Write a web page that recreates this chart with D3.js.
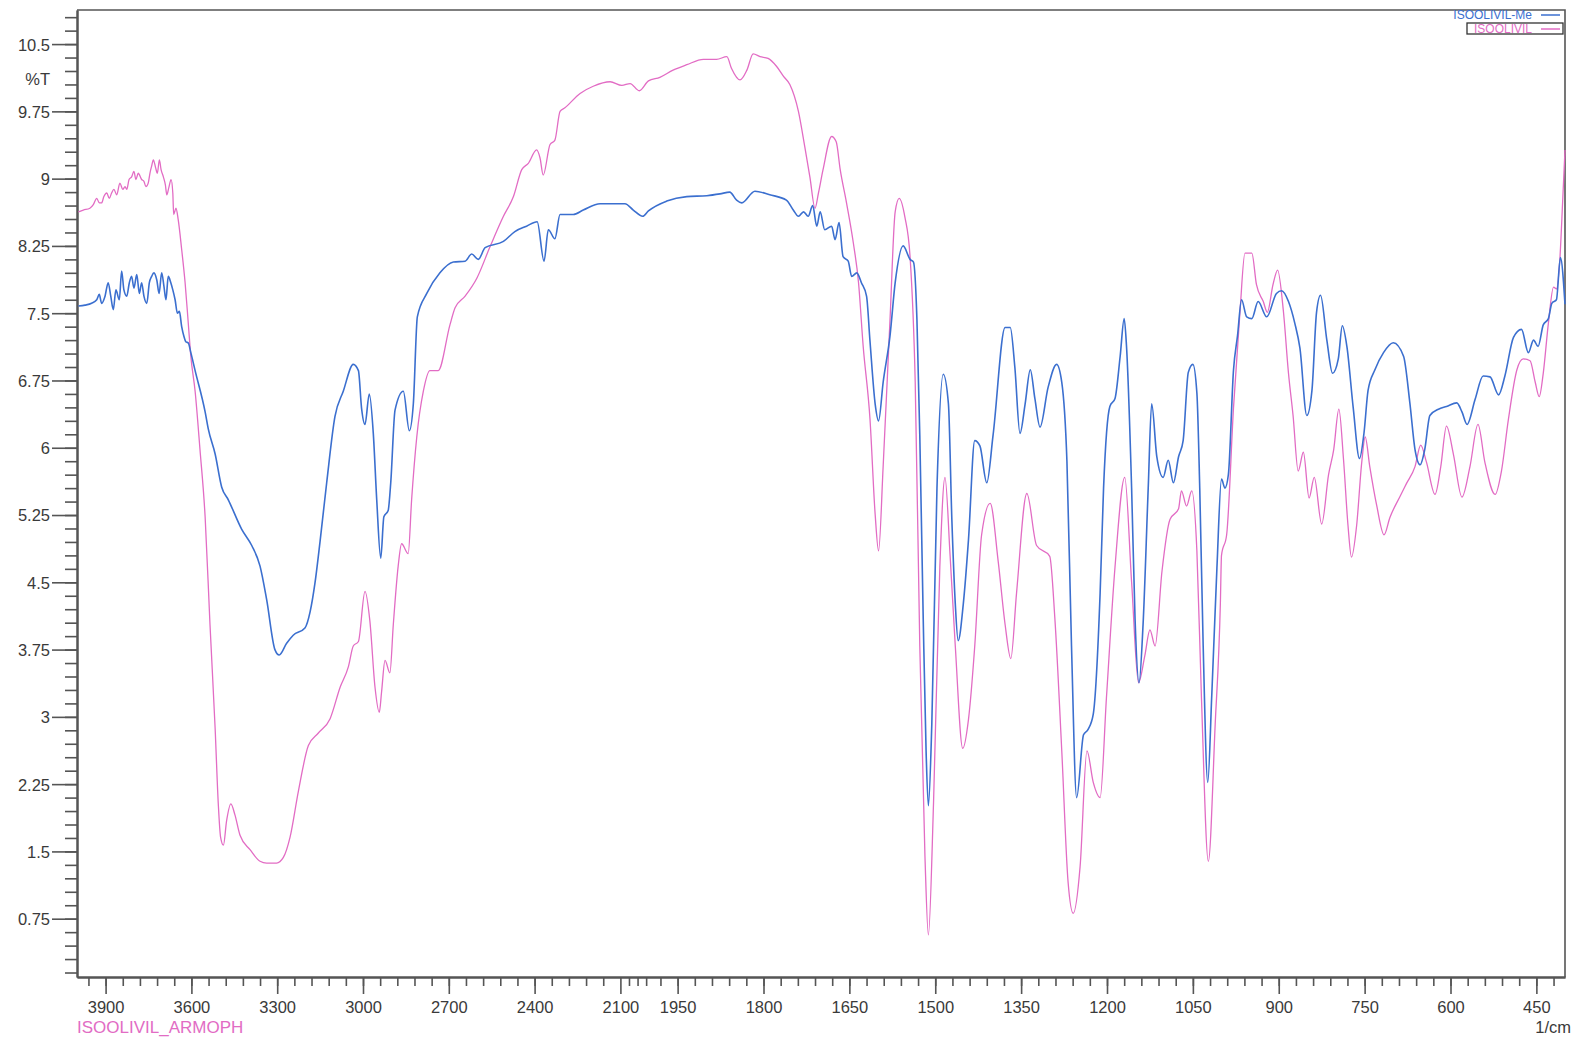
<!DOCTYPE html>
<html>
<head>
<meta charset="utf-8">
<script src="https://cdn.jsdelivr.net/npm/d3@7"></script>
<style>
  html, body { margin: 0; padding: 0; background: #fff; }
  svg { display: block; font-family: "Liberation Sans", Arial, sans-serif; }
  .axis .domain { stroke: #555; stroke-width: 2; }
  .axis .tick line { stroke: #555; stroke-width: 1.6; }
  .axis text { fill: #3a3a3a; font-size: 16.5px; }
</style>
</head>
<body>
<svg id="chart"></svg>
<script>
// Dimensions
const width = 1573;
const height = 1040;

// Tick labels
const xMajorTicks = [3900, 3600, 3300, 3000, 2700, 2400, 2100, 1950, 1800, 1650, 1500, 1350, 1200, 1050, 900, 750, 600, 450];
const yMajorTicks = [0.75, 1.5, 2.25, 3, 3.75, 4.5, 5.25, 6, 6.75, 7.5, 8.25, 9, 9.75, 10.5];

// Series names
const seriesNames = ["ISOOLIVIL-Me", "ISOOLIVIL"];
const sampleName = "ISOOLIVIL_ARMOPH";

// ISOOLIVIL-Me (blue) : [wavenumber 1/cm, %T]
const isoolivilMe = [
  [3995,7.58],[3972,7.59],[3949,7.61],[3931,7.65],[3922,7.71],[3914,7.61],[3902,7.69],[3891,7.84],[3882,7.69],[3873,7.54],
  [3864,7.76],[3852,7.65],[3844,7.97],[3836,7.76],[3826,7.69],[3817,7.84],[3809,7.91],[3801,7.78],[3791,7.93],[3782,7.72],
  [3774,7.84],[3766,7.69],[3756,7.61],[3747,7.84],[3739,7.91],[3731,7.95],[3721,7.87],[3713,7.72],[3704,7.95],[3696,7.80],
  [3689,7.65],[3681,7.91],[3672,7.84],[3665,7.76],[3657,7.65],[3649,7.50],[3642,7.52],[3634,7.35],[3626,7.24],[3619,7.18],
  [3611,7.17],[3602,7.06],[3587,6.86],[3552,6.40],[3541,6.21],[3517,5.93],[3494,5.56],[3471,5.42],[3424,5.09],[3389,4.91],
  [3360,4.68],[3337,4.31],[3308,3.75],[3293,3.69],[3267,3.82],[3244,3.91],[3203,3.99],[3185,4.17],[3168,4.49],[3150,4.96],
  [3127,5.61],[3098,6.35],[3069,6.63],[3034,6.93],[3016,6.86],[3005,6.44],[2993,6.26],[2978,6.60],[2964,6.16],[2952,5.42],
  [2938,4.77],[2927,5.23],[2912,5.30],[2903,5.61],[2888,6.42],[2859,6.63],[2838,6.19],[2824,6.49],[2810,7.46],[2777,7.72],
  [2731,7.95],[2684,8.07],[2643,8.08],[2620,8.16],[2597,8.10],[2573,8.23],[2509,8.30],[2469,8.41],[2428,8.47],[2391,8.52],
  [2367,8.08],[2352,8.43],[2329,8.33],[2311,8.60],[2265,8.60],[2230,8.65],[2171,8.72],[2084,8.72],[2055,8.65],[2022,8.58],
  [2002,8.64],[1969,8.75],[1934,8.80],[1899,8.81],[1876,8.83],[1859,8.85],[1847,8.76],[1838,8.73],[1815,8.86],[1789,8.82],
  [1760,8.76],[1748,8.65],[1739,8.58],[1730,8.63],[1722,8.58],[1714,8.70],[1707,8.47],[1701,8.63],[1693,8.43],[1681,8.47],
  [1675,8.32],[1668,8.51],[1661,8.13],[1652,8.08],[1646,7.91],[1637,7.95],[1629,7.84],[1620,7.69],[1614,7.19],[1605,6.49],
  [1599,6.30],[1591,6.73],[1579,7.25],[1570,7.84],[1556,8.25],[1544,8.10],[1538,8.07],[1532,7.43],[1527,6.14],[1521,4.09],
  [1516,2.62],[1512,2.01],[1506,2.92],[1497,5.55],[1486,6.82],[1477,6.49],[1471,5.20],[1465,4.26],[1460,3.85],[1451,4.26],
  [1442,4.97],[1431,6.08],[1422,6.02],[1410,5.61],[1399,6.14],[1378,7.34],[1369,7.34],[1361,6.90],[1352,6.16],[1343,6.49],
  [1334,6.87],[1326,6.55],[1317,6.23],[1303,6.67],[1288,6.93],[1279,6.73],[1270,5.85],[1262,3.79],[1253,2.10],[1241,2.80],
  [1233,2.86],[1224,3.03],[1212,4.38],[1206,5.55],[1195,6.46],[1186,6.55],[1177,7.02],[1170,7.44],[1166,7.14],[1157,5.55],
  [1151,4.09],[1144,3.38],[1137,4.03],[1128,5.55],[1122,6.49],[1113,5.90],[1102,5.67],[1093,5.86],[1084,5.61],[1075,5.90],
  [1067,6.08],[1058,6.84],[1050,6.93],[1043,6.61],[1038,5.55],[1032,3.79],[1024,2.27],[1017,3.24],[1008,4.66],[1000,5.65],
  [994,5.55],[988,5.70],[979,6.87],[972,7.25],[965,7.65],[956,7.46],[947,7.44],[936,7.63],[921,7.46],[904,7.72],
  [895,7.75],[883,7.63],[872,7.39],[863,7.11],[851,6.36],[842,6.64],[834,7.51],[827,7.70],[816,7.20],[806,6.83],
  [796,6.99],[789,7.36],[781,7.13],[770,6.45],[759,5.88],[751,6.17],[744,6.64],[732,6.87],[717,7.06],[700,7.17],
  [682,7.02],[671,6.50],[662,5.98],[653,5.81],[645,5.98],[636,6.36],[621,6.43],[607,6.46],[589,6.50],[580,6.40],
  [571,6.26],[557,6.54],[543,6.80],[531,6.79],[516,6.59],[505,6.80],[490,7.23],[476,7.32],[464,7.06],[455,7.20],
  [447,7.13],[438,7.37],[429,7.44],[423,7.61],[415,7.65],[408,8.12],[400,7.60]
];

// ISOOLIVIL (pink) : [wavenumber 1/cm, %T]
const isoolivil = [
  [3995,8.63],[3978,8.65],[3955,8.67],[3943,8.71],[3931,8.78],[3922,8.73],[3914,8.73],[3906,8.80],[3896,8.84],[3887,8.78],
  [3879,8.84],[3871,8.88],[3861,8.82],[3850,8.95],[3840,8.88],[3832,8.91],[3826,8.88],[3818,8.99],[3809,9.02],[3801,9.08],
  [3794,8.99],[3786,9.06],[3774,8.99],[3766,8.97],[3759,8.91],[3751,8.95],[3745,9.06],[3739,9.14],[3733,9.21],[3725,9.12],
  [3719,9.06],[3712,9.21],[3706,9.10],[3698,9.02],[3691,8.93],[3686,8.82],[3679,8.90],[3671,8.99],[3665,8.84],[3662,8.60],
  [3654,8.67],[3646,8.54],[3634,8.21],[3622,7.84],[3611,7.39],[3602,7.02],[3587,6.63],[3570,5.98],[3552,5.23],[3535,4.03],
  [3517,2.87],[3506,2.03],[3498,1.66],[3488,1.57],[3477,1.84],[3462,2.03],[3448,1.91],[3430,1.68],[3395,1.52],[3360,1.39],
  [3337,1.37],[3302,1.37],[3279,1.43],[3255,1.66],[3226,2.17],[3191,2.68],[3156,2.82],[3115,2.98],[3080,3.33],[3051,3.56],
  [3034,3.79],[3016,3.84],[2993,4.40],[2976,4.07],[2958,3.33],[2943,3.05],[2935,3.28],[2923,3.63],[2906,3.49],[2894,4.03],
  [2877,4.68],[2865,4.93],[2842,4.82],[2830,5.42],[2812,6.12],[2789,6.63],[2766,6.86],[2737,6.86],[2696,7.37],[2678,7.56],
  [2643,7.69],[2602,7.89],[2556,8.24],[2509,8.58],[2474,8.80],[2445,9.10],[2422,9.17],[2393,9.32],[2381,9.23],[2370,9.04],
  [2346,9.38],[2329,9.43],[2311,9.75],[2294,9.79],[2241,9.95],[2195,10.03],[2136,10.08],[2095,10.04],[2066,10.06],[2034,9.98],
  [2002,10.09],[1981,10.13],[1958,10.21],[1934,10.27],[1905,10.33],[1882,10.33],[1864,10.36],[1856,10.23],[1841,10.10],[1829,10.21],
  [1818,10.39],[1806,10.36],[1792,10.34],[1777,10.25],[1765,10.14],[1754,10.05],[1739,9.75],[1728,9.36],[1719,9.02],[1710,8.67],
  [1704,8.84],[1696,9.10],[1681,9.47],[1673,9.41],[1666,9.10],[1655,8.73],[1643,8.28],[1634,7.84],[1626,7.14],[1614,6.32],
  [1605,5.26],[1599,4.85],[1591,5.79],[1579,7.43],[1570,8.63],[1563,8.78],[1553,8.57],[1544,8.13],[1535,6.73],[1527,3.79],
  [1518,1.45],[1512,0.57],[1503,2.04],[1492,4.67],[1483,5.67],[1474,4.79],[1465,3.79],[1452,2.65],[1442,2.97],[1431,3.79],
  [1419,5.03],[1404,5.38],[1390,4.73],[1378,4.03],[1368,3.65],[1358,4.38],[1340,5.49],[1323,4.91],[1300,4.79],[1291,4.09],
  [1279,2.62],[1268,1.16],[1259,0.81],[1247,1.33],[1235,2.62],[1224,2.27],[1212,2.10],[1201,3.21],[1186,4.67],[1169,5.67],
  [1157,4.50],[1145,3.38],[1134,3.68],[1125,3.97],[1116,3.79],[1104,4.62],[1090,5.20],[1075,5.32],[1070,5.52],[1061,5.35],
  [1052,5.52],[1043,4.85],[1035,3.21],[1023,1.39],[1011,2.92],[1002,4.26],[1000,4.80],[991,5.03],[979,6.45],[968,7.49],
  [959,8.17],[947,8.17],[939,7.82],[927,7.63],[920,7.51],[910,7.82],[902,7.98],[892,7.53],[883,6.83],[875,6.36],
  [866,5.74],[857,5.95],[847,5.44],[838,5.67],[825,5.15],[813,5.70],[804,5.98],[795,6.43],[787,5.88],[779,5.13],
  [773,4.78],[764,5.13],[755,5.84],[749,6.12],[741,5.79],[729,5.36],[716,5.03],[706,5.22],[688,5.46],[677,5.60],
  [662,5.79],[652,6.03],[642,5.84],[627,5.48],[617,5.79],[607,6.24],[595,5.93],[580,5.45],[566,5.79],[552,6.26],
  [540,5.84],[522,5.48],[511,5.74],[499,6.31],[484,6.87],[473,6.99],[461,6.97],[452,6.73],[445,6.57],[438,6.83],
  [429,7.39],[420,7.79],[415,7.77],[409,8.10],[404,8.76],[400,9.32]
];

const colors = ["#3b6fcf", "#e26cc4"];

// Echelles : axe X coupé à 2000 1/cm (échelle x2 en dessous)
const x = d3.scaleLinear().domain([4000, 2000, 400]).range([77, 649, 1565]);
const y = d3.scaleLinear().domain([0.1, 10.88]).range([977, 10]);

// Graduations mineures
const xMinorTicks = d3.range(3960, 2100, -60).concat([2070, 2040, 2010]).concat(d3.range(1980, 419, -30));
const yMinorTicks = d3.range(1, 73).map(i => +(i * 0.15).toFixed(2));

const svg = d3.select("#chart")
    .attr("width", width)
    .attr("height", height);

// Cadre haut et droit
svg.append("path")
    .attr("d", `M${x(4000)},${y(10.88)}H${x(400)}V${y(0.1)}`)
    .attr("fill", "none")
    .attr("stroke", "#555")
    .attr("stroke-width", 1.6);

// Axe X
svg.append("g")
    .attr("class", "axis")
    .attr("transform", `translate(0,${y(0.1)})`)
    .call(d3.axisBottom(x).tickValues(xMinorTicks).tickSize(9).tickSizeOuter(0).tickFormat(""));

const xAxis = svg.append("g")
    .attr("class", "axis")
    .attr("transform", `translate(0,${y(0.1)})`)
    .call(d3.axisBottom(x).tickValues(xMajorTicks).tickSize(17).tickSizeOuter(0).tickFormat(d => d));
xAxis.selectAll("text").attr("y", 36).attr("dy", 0);

// Axe Y
svg.append("g")
    .attr("class", "axis")
    .attr("transform", `translate(${x(4000)},0)`)
    .call(d3.axisLeft(y).tickValues(yMinorTicks).tickSize(12).tickSizeOuter(0).tickFormat(""));

const yAxis = svg.append("g")
    .attr("class", "axis")
    .attr("transform", `translate(${x(4000)},0)`)
    .call(d3.axisLeft(y).tickValues(yMajorTicks).tickSize(25).tickSizeOuter(0).tickFormat(d => String(d)));
yAxis.selectAll("text").attr("x", -27).attr("dy", "0.36em");

// Unités
svg.append("text")
    .attr("x", 50)
    .attr("y", y(10.115))
    .attr("dy", "0.36em")
    .attr("text-anchor", "end")
    .attr("font-size", "16.5px")
    .attr("fill", "#3a3a3a")
    .text("%T");

svg.append("text")
    .attr("x", 1571)
    .attr("y", 1033)
    .attr("text-anchor", "end")
    .attr("font-size", "16.5px")
    .attr("fill", "#3a3a3a")
    .text("1/cm");

svg.append("text")
    .attr("x", 77)
    .attr("y", 1033)
    .attr("font-size", "17px")
    .attr("fill", colors[1])
    .text(sampleName);

// Spectres (courbe lissée)
const line = d3.line()
    .curve(d3.curveMonotoneX)
    .x(d => x(d[0]))
    .y(d => y(d[1]));

svg.append("path")
    .datum(isoolivil)
    .attr("d", line)
    .attr("fill", "none")
    .attr("stroke", colors[1])
    .attr("stroke-width", 1.3)
    .attr("stroke-linejoin", "round");

svg.append("path")
    .datum(isoolivilMe)
    .attr("d", line)
    .attr("fill", "none")
    .attr("stroke", colors[0])
    .attr("stroke-width", 1.6)
    .attr("stroke-linejoin", "round");

// Légende
const legend = svg.append("g");
seriesNames.forEach((name, i) => {
    const ly = 15 + i * 14;
    legend.append("text")
        .attr("x", 1532)
        .attr("y", ly)
        .attr("dy", "0.36em")
        .attr("text-anchor", "end")
        .attr("font-size", "12px")
        .attr("fill", colors[i])
        .text(name);
    legend.append("line")
        .attr("x1", 1541).attr("x2", 1560)
        .attr("y1", ly).attr("y2", ly)
        .attr("stroke", colors[i])
        .attr("stroke-width", 1.5);
});
legend.append("rect")
    .attr("x", 1467).attr("y", 23)
    .attr("width", 96).attr("height", 11)
    .attr("fill", "none")
    .attr("stroke", "#333")
    .attr("stroke-width", 1.3);
</script>
</body>
</html>
